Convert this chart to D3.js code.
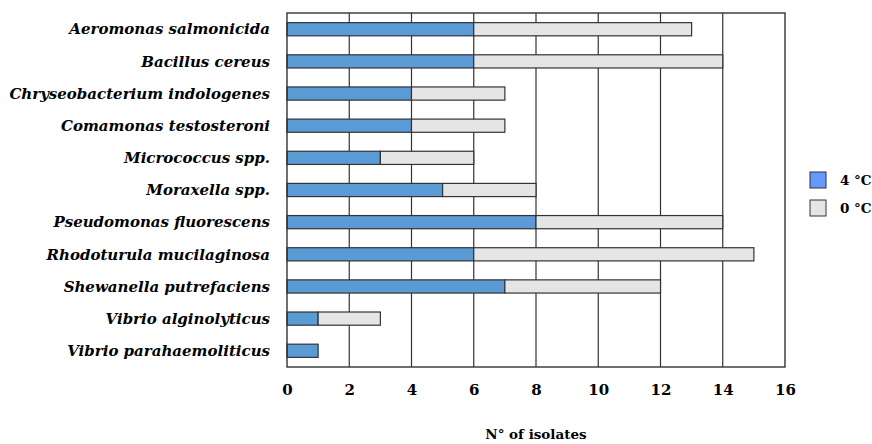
<!DOCTYPE html>
<html>
<head>
<meta charset="utf-8">
<script src="https://cdn.jsdelivr.net/npm/d3@7"></script>
<style>
body { margin: 0; background: #fff; }
text { font-family: "DejaVu Serif", "Liberation Serif", serif; font-weight: bold; }
</style>
</head>
<body>
<script>
// isolates per species, split by storage temperature
const species = ["Aeromonas salmonicida", "Bacillus cereus", "Chryseobacterium indologenes",
	"Comamonas testosteroni", "Micrococcus spp.", "Moraxella spp.", "Pseudomonas fluorescens",
	"Rhodoturula mucilaginosa", "Shewanella putrefaciens", "Vibrio alginolyticus", "Vibrio parahaemoliticus"];
const at4 = [6, 6, 4, 4, 3, 5, 8, 6, 7, 1, 1];
const at0 = [7, 8, 3, 3, 3, 3, 6, 9, 5, 2, 0];
const xTicks = [0, 2, 4, 6, 8, 10, 12, 14, 16];
const legendLabels = ["4 °C", "0 °C"];

const width = 872, height = 444;
const margin = {top: 13, right: 87, bottom: 77, left: 287};

const svg = d3.select("body").append("svg")
	.attr("width", width)
	.attr("height", height);

const x = d3.scaleLinear().domain([0, 16]).range([margin.left, width - margin.right]);
const y = d3.scaleBand().domain(species).range([margin.top, height - margin.bottom]).paddingInner(0.59).paddingOuter(0.3);

// grid
svg.append("g")
	.selectAll("line")
	.data(xTicks.slice(1, -1))
	.join("line")
	.attr("x1", d => x(d)).attr("x2", d => x(d))
	.attr("y1", margin.top).attr("y2", height - margin.bottom)
	.attr("stroke", "#333").attr("stroke-width", 1.2);

const rows = species.map((s, i) => ({name: s, a: at4[i], b: at0[i]}));

svg.append("g")
	.selectAll("rect")
	.data(rows)
	.join("rect")
	.attr("x", x(0))
	.attr("y", d => y(d.name))
	.attr("width", d => x(d.a) - x(0))
	.attr("height", y.bandwidth())
	.attr("fill", "#5b9bd5")
	.attr("stroke", "#333").attr("stroke-width", 1.2);

svg.append("g")
	.selectAll("rect")
	.data(rows.filter(d => d.b > 0))
	.join("rect")
	.attr("x", d => x(d.a))
	.attr("y", d => y(d.name))
	.attr("width", d => x(d.a + d.b) - x(d.a))
	.attr("height", y.bandwidth())
	.attr("fill", "#e5e5e5")
	.attr("stroke", "#333").attr("stroke-width", 1.2);

// frame
svg.append("rect")
	.attr("x", margin.left).attr("y", margin.top)
	.attr("width", x(16) - x(0)).attr("height", height - margin.bottom - margin.top)
	.attr("fill", "none").attr("stroke", "#333").attr("stroke-width", 1.4);

// category labels
svg.append("g")
	.selectAll("text")
	.data(species)
	.join("text")
	.attr("x", 270)
	.attr("y", d => y(d) + y.bandwidth() / 2)
	.attr("dy", "0.35em")
	.attr("text-anchor", "end")
	.attr("font-style", "italic")
	.attr("font-size", 15)
	.text(d => d);

// x axis
const xAxis = svg.append("g")
	.attr("transform", `translate(0,${height - margin.bottom})`)
	.call(d3.axisBottom(x).tickValues(xTicks).tickSize(0).tickPadding(17));
xAxis.select(".domain").remove();
xAxis.selectAll("text")
	.attr("font-size", 15)
	.attr("fill", "#000")
	.style("font-family", "DejaVu Serif, serif")
	.style("font-weight", "bold");

svg.append("text")
	.attr("x", (x(0) + x(16)) / 2)
	.attr("y", 439)
	.attr("text-anchor", "middle")
	.attr("font-size", 13.5)
	.text("N° of isolates");

// legend
const legend = svg.append("g")
	.selectAll("g")
	.data(legendLabels)
	.join("g")
	.attr("transform", (d, i) => `translate(810,${172 + i * 28})`);
legend.append("rect")
	.attr("width", 16).attr("height", 16)
	.attr("fill", (d, i) => i == 0 ? "#6699ff" : "#e5e5e5")
	.attr("stroke", "#333").attr("stroke-width", 1);
legend.append("text")
	.attr("x", 30).attr("y", 8)
	.attr("dy", "0.35em")
	.attr("font-size", 13.5)
	.text(d => d);
</script>
</body>
</html>
